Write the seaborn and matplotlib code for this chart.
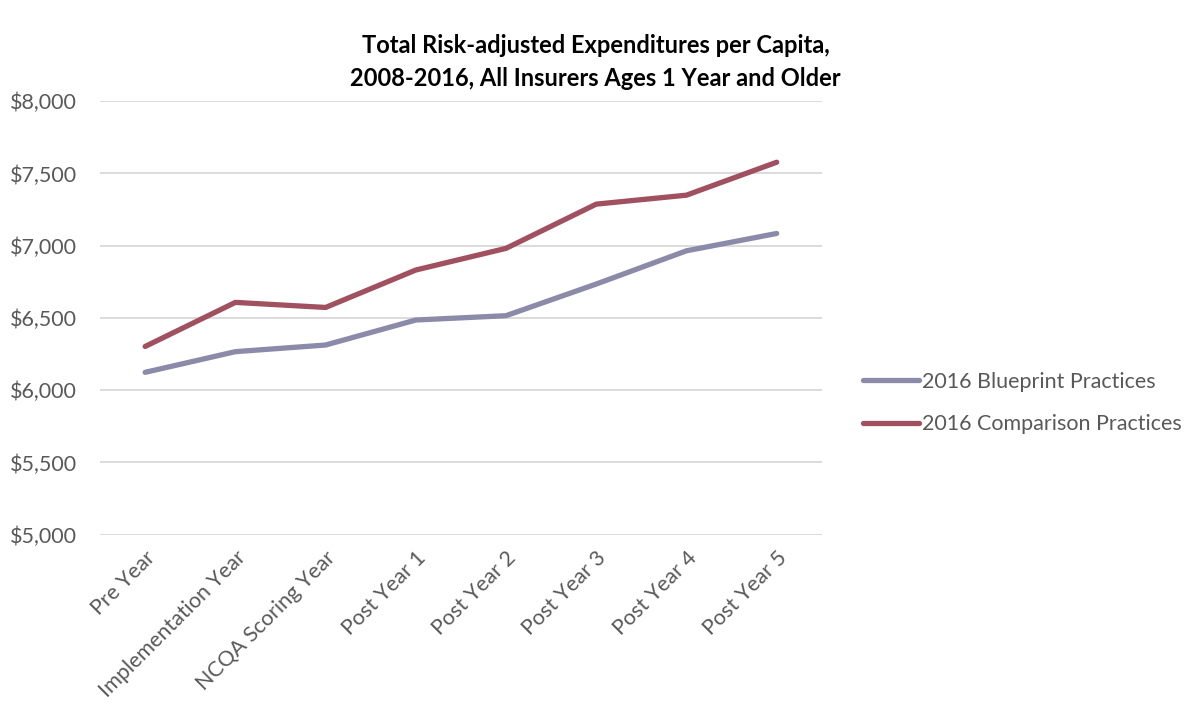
import pandas as pd
import matplotlib.pyplot as plt
import seaborn as sns
from matplotlib.ticker import FuncFormatter

# Dữ liệu
categories = ['Pre Year', 'Implementation Year', 'NCQA Scoring Year', 'Post Year 1',
              'Post Year 2', 'Post Year 3', 'Post Year 4', 'Post Year 5']
blueprint = [6124, 6267, 6313, 6486, 6516, 6735, 6965, 7085]
comparison = [6303, 6608, 6573, 6832, 6982, 7288, 7350, 7578]
series_names = ['2016 Blueprint Practices', '2016 Comparison Practices']
colors = ['#8B8BA9', '#A0505F']

df = pd.DataFrame({
    'x': list(range(len(categories))) * 2,
    'value': blueprint + comparison,
    'series': [series_names[0]] * len(categories) + [series_names[1]] * len(categories),
})

sns.set_theme(style='white')
plt.rcParams['font.family'] = ['Lato', 'DejaVu Sans']
text_color = '#595959'

fig = plt.figure(figsize=(11.91, 7.13), dpi=100)
ax = fig.add_axes([0.084, 0.250, 0.606, 0.608])

sns.lineplot(data=df, x='x', y='value', hue='series', palette=colors,
             linewidth=3.8, ax=ax, legend=True, solid_capstyle='round')

ax.set_xlim(-0.5, len(categories) - 0.5)
ax.set_ylim(5000, 8000)
ax.set_yticks(range(5000, 8001, 500))
ax.yaxis.set_major_formatter(FuncFormatter(lambda v, p: f'${v:,.0f}'))
ax.set_xticks(range(len(categories)))
ax.set_xticklabels(categories, rotation=45, ha='right', rotation_mode='anchor')
ax.tick_params(axis='both', length=0, labelsize=15.5, colors=text_color)
ax.tick_params(axis='y', pad=16.5)
ax.tick_params(axis='x', pad=9)
ax.grid(axis='y', color='#D9D9D9', linewidth=1.3)
ax.set_axisbelow(True)
for s in ax.spines.values():
    s.set_visible(False)
ax.set_xlabel('')
ax.set_ylabel('')

leg = ax.legend(loc='center left', bbox_to_anchor=(1.045, 0.304), frameon=False,
                fontsize=15.5, handlelength=2.6, handletextpad=0.15, labelspacing=1.05,
                borderaxespad=0)
for t in leg.get_texts():
    t.set_color(text_color)
for line in leg.get_lines():
    line.set_linewidth(3.8)

fig.text(0.5, 0.952, 'Total Risk-adjusted Expenditures per Capita,\n2008-2016, All Insurers Ages 1 Year and Older',
         ha='center', va='top', fontsize=17, fontweight='bold', color='black', linespacing=1.5)

fig.savefig('out.png', dpi=100)
